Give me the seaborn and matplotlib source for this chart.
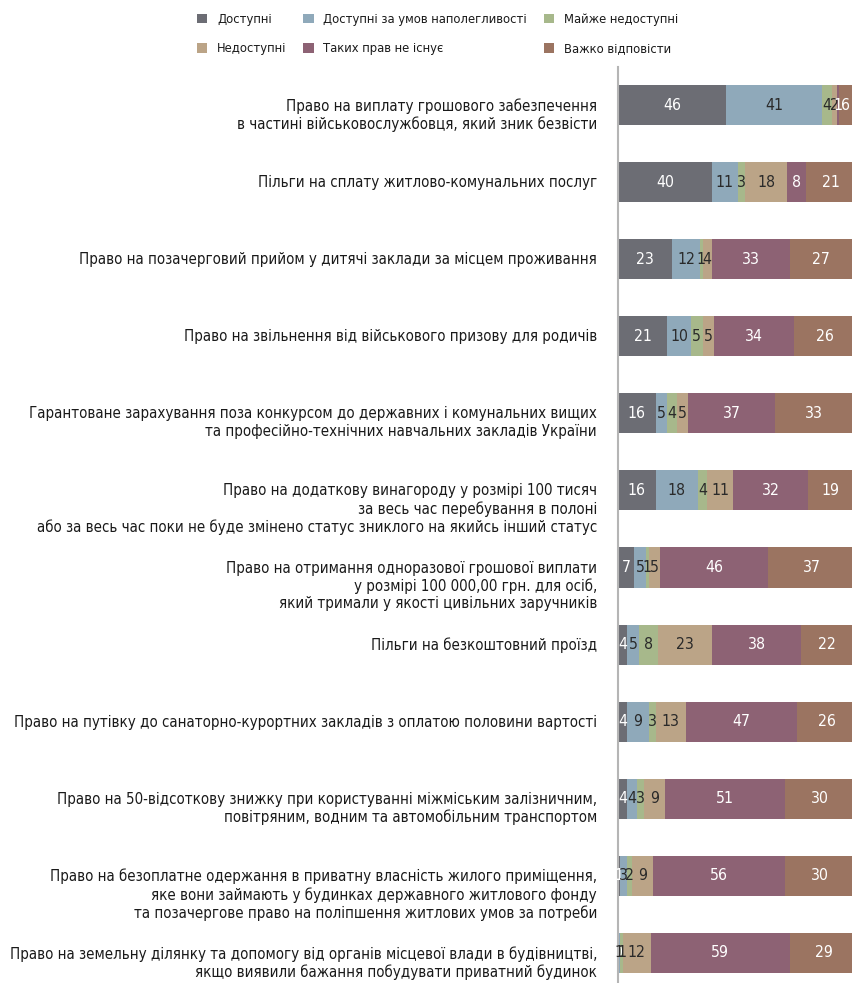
import numpy as np
import pandas as pd
import seaborn as sns
import matplotlib.pyplot as plt
from matplotlib.patches import Patch
from matplotlib import font_manager
from matplotlib.font_manager import FontProperties
from matplotlib.ft2font import FT2Font
from matplotlib.transforms import blended_transform_factory, ScaledTranslation

# rows of the chart, top to bottom
rights = [
    "Право на виплату грошового забезпечення\nв частині військовослужбовця, який зник безвісти",
    "Пільги на сплату житлово-комунальних послуг",
    "Право на позачерговий прийом у дитячі заклади за місцем проживання",
    "Право на звільнення від військового призову для родичів",
    "Гарантоване зарахування поза конкурсом до державних і комунальних вищих\nта професійно-технічних навчальних закладів України",
    "Право на додаткову винагороду у розмірі 100 тисяч\nза весь час перебування в полоні\nабо за весь час поки не буде змінено статус зниклого на якийсь інший статус",
    "Право на отримання одноразової грошової виплати\nу розмірі 100 000,00 грн. для осіб,\nякий тримали у якості цивільних заручників",
    "Пільги на безкоштовний проїзд",
    "Право на путівку до санаторно-курортних закладів з оплатою половини вартості",
    "Право на 50-відсоткову знижку при користуванні міжміським залізничним,\nповітряним, водним та автомобільним транспортом",
    "Право на безоплатне одержання в приватну власність жилого приміщення,\nяке вони займають у будинках державного житлового фонду\nта позачергове право на поліпшення житлових умов за потреби",
    "Право на земельну ділянку та допомогу від органів місцевої влади в будівництві,\nякщо виявили бажання побудувати приватний будинок",
]

categories = ["Доступні", "Доступні за умов наполегливості", "Майже недоступні",
              "Недоступні", "Таких прав не існує", "Важко відповісти"]

available = [46, 40, 23, 21, 16, 16, 7, 4, 4, 4, 1, 0]
available_if_insist = [41, 11, 12, 10, 5, 18, 5, 5, 9, 4, 3, 1]
almost_unavailable = [4, 3, 1, 5, 4, 4, 1, 8, 3, 3, 2, 1]
unavailable = [2, 18, 4, 5, 5, 11, 5, 23, 13, 9, 9, 12]
no_such_rights = [1, 8, 33, 34, 37, 32, 46, 38, 47, 51, 56, 59]
hard_to_say = [6, 21, 27, 26, 33, 19, 37, 22, 26, 30, 30, 29]

colors = ["#6c6d74", "#8fa9ba", "#a7b88b", "#bba487", "#8d6274", "#9b7461"]
text_colors = ["white", "#2a2a2a", "#2a2a2a", "#2a2a2a", "white", "white"]

df = pd.DataFrame(
    {c: v for c, v in zip(categories, [available, available_if_insist, almost_unavailable,
                                       unavailable, no_such_rights, hard_to_say])},
    index=rights,
)
cum = df.cumsum(axis=1)


# the original uses a condensed face; find a narrow one that has Cyrillic
def has_cyrillic(path):
    try:
        f = FT2Font(path)
        return all(f.get_char_index(ord(ch)) for ch in "Пїієґ")
    except Exception:
        return False


font_path = None
for f in font_manager.fontManager.ttflist:
    narrow = f.stretch in ("condensed", "semi-condensed", "extra-condensed") \
        or "Condensed" in f.name or "Narrow" in f.name
    if narrow and f.style == "normal" and f.weight in (400, "normal", "regular") \
            and has_cyrillic(f.fname):
        font_path = f.fname
        break

if font_path:
    base = FontProperties(fname=font_path)
else:
    base = FontProperties(family="Roboto")

fig = plt.figure(figsize=(8.53, 9.83), dpi=100)

# size the text so the longest label line is as wide as in the original
probe = fig.text(0, 0, "Право на земельну ділянку та допомогу від органів місцевої влади в будівництві,",
                 fontproperties=base, fontsize=10)
w = probe.get_window_extent(renderer=fig.canvas.get_renderer()).width
probe.remove()
fs = min(11.5, 10 * 587 / w)
prop = base.copy()
prop.set_size(fs)
num_prop = base.copy()
num_prop.set_size(fs + 0.5)
leg_prop = base.copy()
leg_prop.set_size(fs * 0.86)

ax = fig.add_axes([618 / 853, 0.0, 235 / 853, 1 - 66.5 / 983])

# stacked bars: draw cumulative totals from the last category back to the first
for cat, col in reversed(list(zip(categories, colors))):
    sns.barplot(x=cum[cat].values, y=rights, color=col, orient="h",
                width=0.52, saturation=1, ax=ax)

for i, row in enumerate(rights):
    for cat, tc in zip(categories, text_colors):
        v = df.loc[row, cat]
        ax.text(cum.loc[row, cat] - v / 2, i, str(v), ha="center", va="center",
                fontproperties=num_prop, color=tc)

# row labels: first line sits level with the bar, further lines hang below
lab_trans = blended_transform_factory(ax.transAxes, ax.transData) + \
    ScaledTranslation(-21 / 100, 7 / 100, fig.dpi_scale_trans)
for i, row in enumerate(rights):
    ax.text(0, i, row, transform=lab_trans, ha="right", va="top",
            fontproperties=prop, color="#1a1a1a", linespacing=1.2)

ax.set_xlim(0, 100)
ax.set_ylim(11.39, -0.5)
ax.set_xlabel("")
ax.set_ylabel("")
ax.set_xticks([])
ax.tick_params(axis="y", length=0, labelleft=False)
for s in ["top", "right", "bottom"]:
    ax.spines[s].set_visible(False)
ax.spines["left"].set_color("#b5b5b5")
ax.spines["left"].set_linewidth(1.5)

handles = [Patch(facecolor=c, edgecolor="none") for c in colors]
order = [0, 3, 1, 4, 2, 5]
leg = fig.legend([handles[i] for i in order], [categories[i] for i in order],
                 loc="upper left", bbox_to_anchor=(188 / 853, 1 - 4 / 983), ncol=3,
                 frameon=False, fontsize=fs * 0.86, handlelength=0.8, handleheight=0.8,
                 handletextpad=0.75, columnspacing=1.3, labelspacing=1.25,
                 borderaxespad=0.3)
for t in leg.get_texts():
    t.set_fontproperties(leg_prop)
    t.set_color("#1a1a1a")

fig.savefig("out.png", dpi=100)
